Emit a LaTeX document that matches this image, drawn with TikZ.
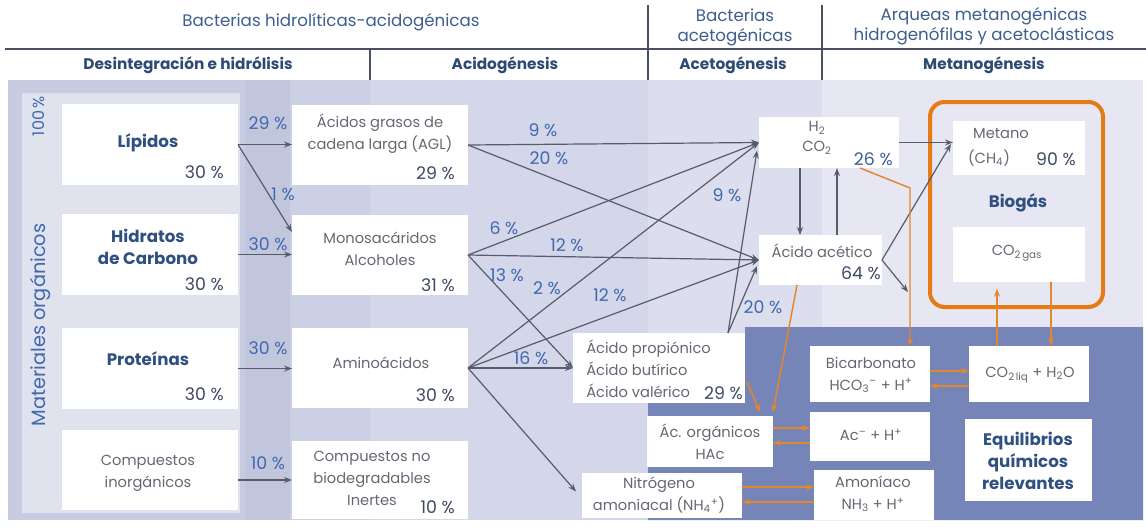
\documentclass[tikz,border=0pt]{standalone}
\usepackage{fontspec}
\setmainfont{Poppins}
\usetikzlibrary{arrows.meta,calc,fit}
\definecolor{frameA}{HTML}{C8CCE2}
\definecolor{panelA}{HTML}{E0E2EE}
\definecolor{colB}{HTML}{C2C6DD}
\definecolor{colC}{HTML}{CCD0E4}
\definecolor{colD}{HTML}{D4D7E9}
\definecolor{colE}{HTML}{DCDEED}
\definecolor{colF}{HTML}{E6E7F2}
\definecolor{darkB}{HTML}{7585B8}
\definecolor{orangeB}{HTML}{E57B14}
\definecolor{orangeL}{HTML}{E4862C}
\definecolor{garrow}{HTML}{575C6B}
\definecolor{hgray}{HTML}{4B5060}
\definecolor{hblue}{HTML}{3D5E8E}
\definecolor{hnavy}{HTML}{2D4A72}
\definecolor{navy}{HTML}{2F5080}
\definecolor{pblue}{HTML}{3F68AE}
\definecolor{gtext}{HTML}{646872}
\definecolor{slate}{HTML}{3E4A63}
\begin{document}
\begin{tikzpicture}[x=0.75pt,y=-0.75pt,
  wbox/.style={fill=white, draw=none, inner sep=0pt, outer sep=0pt},
  obox/.style={draw=orangeB, line width=3pt, rounded corners=11pt, inner sep=0pt},
  txt/.style={inner sep=0pt, font=\fontsize{11}{16.5}\selectfont, text=gtext, align=center},
  btxt/.style={inner sep=0pt, font=\fontsize{12.5}{16.5}\selectfont\bfseries, text=navy, align=center},
  pbox/.style={inner sep=0pt, font=\fontsize{13}{16.5}\selectfont, text=slate, anchor=east},
  plbl/.style={inner sep=0pt, font=\fontsize{13}{14}\selectfont, text=pblue},
  hdr/.style={inner sep=0pt, font=\fontsize{12.5}{15}\selectfont, text=hblue, align=center},
  hdrb/.style={inner sep=0pt, font=\fontsize{11.5}{14}\selectfont\bfseries, text=hnavy},
  garr/.style={draw=garrow, line width=0.9pt, -{Stealth[length=6pt,width=4.5pt]}},
  oarr/.style={draw=orangeL, line width=1.1pt, -{Stealth[length=6pt,width=4.5pt]}},
  hline/.style={draw=hgray, line width=0.9pt}
]
\useasboundingbox (0,0) rectangle (1146,529);
\fill[white] (0,0) rectangle (1146,529);

% ---- backgrounds
\fill[frameA] (8,80) rectangle (245,520);
\fill[panelA] (22,93) rectangle (240,513);
\fill[colB] (245,80) rectangle (290,520);
\fill[colC] (290,80) rectangle (370,520);
\fill[colD] (370,80) rectangle (648,520);
\fill[colE] (648,80) rectangle (822,520);
\fill[colF] (822,80) rectangle (1143,520);
\fill[darkB] (745,327) -- (1143,327) -- (1143,520) -- (648,520) -- (648,403) -- (745,403) -- cycle;

% ---- header
\draw[hline] (5,49) -- (1146,49);
\draw[hline] (648,5) -- (648,80);
\draw[hline] (822,5) -- (822,80);
\draw[hline] (370,49) -- (370,80);
\node[hdr] (hA) at (331,22) {Bacterias hidrolíticas-acidogénicas};
\node[hdr] (hB) at (735,27) {Bacterias\\acetogénicas};
\node[hdr] (hC) at (984,26) {Arqueas metanogénicas\\hidrogenófilas y acetoclásticas};
\node[hdrb] (hD) at (188,65) {Desintegración e hidrólisis};
\node[hdrb] (hE) at (505,65) {Acidogénesis};
\node[hdrb] (hF) at (733,65) {Acetogénesis};
\node[hdrb] (hG) at (984,65) {Metanogénesis};

% ---- white boxes
\node[wbox, fit={(62,104) (238,185)}] (lip) {};
\node[wbox, fit={(62,214) (238,295)}] (hid) {};
\node[wbox, fit={(62,328) (238,409)}] (pro) {};
\node[wbox, fit={(62,430) (238,510)}] (inorg) {};
\node[wbox, fit={(292,105) (468,185)}] (agl) {};
\node[wbox, fit={(292,215) (468,295)}] (mono) {};
\node[wbox, fit={(292,328) (468,408)}] (amino) {};
\node[wbox, fit={(292,441) (468,519)}] (nobio) {};
\node[wbox, fit={(759,117) (899,168)}] (h2co2) {};
\node[wbox, fit={(759,235) (882,285)}] (acet) {};
\node[wbox, fit={(573,333) (745,403)}] (prop) {};
\node[wbox, fit={(647,416) (773,467)}] (acorg) {};
\node[wbox, fit={(582,473) (742,518)}] (nitro) {};
\node[obox, fit={(930,102) (1103,307)}] (biogas) {};
\node[wbox, fit={(953,121) (1085,175)}] (metano) {};
\node[wbox, fit={(953,227) (1085,282)}] (co2gas) {};
\node[wbox, fit={(810,346) (930,402)}] (bic) {};
\node[wbox, fit={(969,346) (1089,402)}] (co2liq) {};
\node[wbox, fit={(810,412) (930,461)}] (acm) {};
\node[wbox, fit={(814,470) (934,520)}] (amon) {};
\node[wbox, fit={(965,419) (1092,501)}] (equi) {};

% ---- helper coordinates
\coordinate (acend) at (908,292);
\coordinate (ok1) at (910,188);
\coordinate (ya) at (0,428);
\coordinate (yb) at (0,443);
\coordinate (yc) at (0,371);
\coordinate (yd) at (0,386);
\coordinate (ye) at (0,487);
\coordinate (yf) at (0,502);
\coordinate (xa) at (997,0);
\coordinate (xb) at (1051,0);

% ---- gray arrows
\draw[garr] (lip.east) -- (agl.west |- lip.east);
\draw[garr] (lip.east) -- ($(mono.north west)+(0,17)$);
\draw[garr] (hid.east) -- (mono.west |- hid.east);
\draw[garr] (pro.east) -- (amino.west |- pro.east);
\draw[garr] (inorg.east |- nobio.west) -- (nobio.west);
\draw[garr] (agl.east) -- (h2co2.west);
\draw[garr] (agl.east) -- (acet.west);
\draw[garr] (mono.east) -- (h2co2.west);
\draw[garr] (mono.east) -- (acet.west);
\draw[garr] (mono.east) -- (prop.west);
\draw[garr] (amino.east) -- (h2co2.west);
\draw[garr] (amino.east) -- (acet.west);
\draw[garr] (amino.east) -- (prop.west);
\draw[garr] (amino.east) -- ($(nitro.west)+(-6,-4)$);
\draw[garr] ($(prop.north east)+(-17,0)$) -- ($(h2co2.west)+(-2,8)$);
\draw[garr] ($(prop.north east)+(-17,0)$) -- ($(acet.west)+(-2,6)$);
\draw[garr] (h2co2.east) -- (h2co2.east -| metano.west);
\draw[garr] ($(h2co2.south west)+(41,0)$) -- ($(acet.north west)+(41,0)$);
\draw[garr] ($(acet.north west)+(78,0)$) -- ($(h2co2.south west)+(78,0)$);
\draw[garr] (acet.east) -- ($(metano.west)+(-2,-4)$);
\draw[garr] (acet.east) -- (acend);

% ---- orange arrows
\draw[oarr] ($(h2co2.south)+(31,0)$) -- (ok1) -- (ok1 |- bic.north);
\draw[oarr] ($(acet.south west)+(38,0)$) -- ($(acorg.north east)+(0,-4)$);
\draw[oarr] ($(prop.east)+(2,14)$) -- ($(acorg.north east)+(-13,-4)$);
\draw[oarr, line width=1.4pt] (acorg.east |- ya) -- (acm.west |- ya);
\draw[oarr, line width=1.4pt] (acm.west |- yb) -- (acorg.east |- yb);
\draw[oarr, line width=1.4pt] (bic.east |- yc) -- (co2liq.west |- yc);
\draw[oarr, line width=1.4pt] (co2liq.west |- yd) -- (bic.east |- yd);
\draw[oarr, line width=1.4pt] (nitro.east |- ye) -- (amon.west |- ye);
\draw[oarr, line width=1.4pt] (amon.west |- yf) -- (nitro.east |- yf);
\draw[oarr, line width=1.4pt, shorten >=5pt] (co2liq.north -| xa) -- (co2gas.south -| xa);
\draw[oarr, line width=1.4pt] (co2gas.south -| xb) -- (co2liq.north -| xb);

% ---- column 1 texts
\node[inner sep=0pt, font=\fontsize{12}{14}\selectfont, text=pblue, rotate=90] (cien) at (39,116) {100\,\%};
\node[inner sep=0pt, font=\fontsize{14.5}{17}\selectfont, text=pblue, rotate=90] (matorg) at (41,325) {Materiales orgánicos};
\node[btxt] (lipT) at (148,143) {Lípidos};
\node[pbox] (lipP) at (224,172) {30 \%};
\node[btxt] (hidT) at (148,247) {Hidratos\\de Carbono};
\node[pbox] (hidP) at (224,284) {30 \%};
\node[btxt] (proT) at (148,359) {Proteínas};
\node[pbox] (proP) at (224,394) {30 \%};
\node[txt] (inorgT) at (148,473) {Compuestos\\inorgánicos};

% ---- column 3 texts
\node[txt] (aglT) at (380,134) {Ácidos grasos de\\cadena larga (AGL)};
\node[pbox] (aglP) at (455,173) {29 \%};
\node[txt] (monoT) at (380,249) {Monosacáridos\\Alcoholes};
\node[pbox] (monoP) at (455,285) {31 \%};
\node[txt] (aminoT) at (381,363) {Aminoácidos};
\node[pbox] (aminoP) at (455,395) {30 \%};
\node[txt] (nobioT) at (372,478) {Compuestos no\\biodegradables\\Inertes};
\node[pbox] (nobioP) at (455,507) {10 \%};

% ---- column 4 texts
\node[txt, font=\fontsize{11}{15}\selectfont] (h2T) at (817,138) {H\textsubscript{2}\\CO\textsubscript{2}};
\node[pbox, text=pblue!70!slate] (h2P) at (893,159) {26 \%};
\node[txt] (acetT) at (822,251) {Ácido acético};
\node[pbox] (acetP) at (881,273) {64 \%};
\node[txt, align=left, anchor=west] (propT) at (586,369) {Ácido propiónico\\Ácido butírico\\Ácido valérico};
\node[pbox] (propP) at (743,393) {29 \%};
\node[txt] (acorgT) at (710,442) {Ác. orgánicos\\HAc};
\node[txt] (nitroT) at (659,495) {Nitrógeno\\amoniacal (NH\textsubscript{4}\textsuperscript{+})};

% ---- column 5 texts
\node[txt] (metT) at (1001,133) {Metano};
\node[txt] (chT) at (989,158) {(CH\textsubscript{4})};
\node[pbox] (metP) at (1076,159) {90 \%};
\node[btxt] (bioT) at (1018,203) {Biogás};
\node[txt] (co2gT) at (1017,253) {CO\textsubscript{2\,gas}};
\node[txt] (bicT) at (871,375) {Bicarbonato\\HCO\textsubscript{3}\textsuperscript{--} + H\textsuperscript{+}};
\node[txt] (co2lT) at (1030,375) {CO\textsubscript{2\,liq} + H\textsubscript{2}O};
\node[txt] (acmT) at (871,435) {Ac\textsuperscript{--} + H\textsuperscript{+}};
\node[txt] (amonT) at (873,494) {Amoníaco\\NH\textsubscript{3} + H\textsuperscript{+}};
\node[btxt] (equiT) at (1028,461) {Equilibrios\\químicos\\relevantes};

% ---- arrow labels
\node[plbl] (l1) at (268,123) {29 \%};
\node[plbl] (l2) at (283,194) {1 \%};
\node[plbl] (l3) at (268,244) {30 \%};
\node[plbl] (l4) at (268,348) {30 \%};
\node[plbl] (l5) at (268,463) {10 \%};
\node[plbl] (l6) at (543,130) {9 \%};
\node[plbl] (l7) at (549,158) {20 \%};
\node[plbl] (l8) at (504,228) {6 \%};
\node[plbl] (l9) at (567,245) {12 \%};
\node[plbl] (l10) at (507,275) {13 \%};
\node[plbl] (l11) at (547,288) {2 \%};
\node[plbl] (l12) at (610,295) {12 \%};
\node[plbl] (l13) at (727,195) {9 \%};
\node[plbl] (l14) at (763,307) {20 \%};
\node[plbl] (l15) at (531,358) {16 \%};
\end{tikzpicture}
\end{document}
